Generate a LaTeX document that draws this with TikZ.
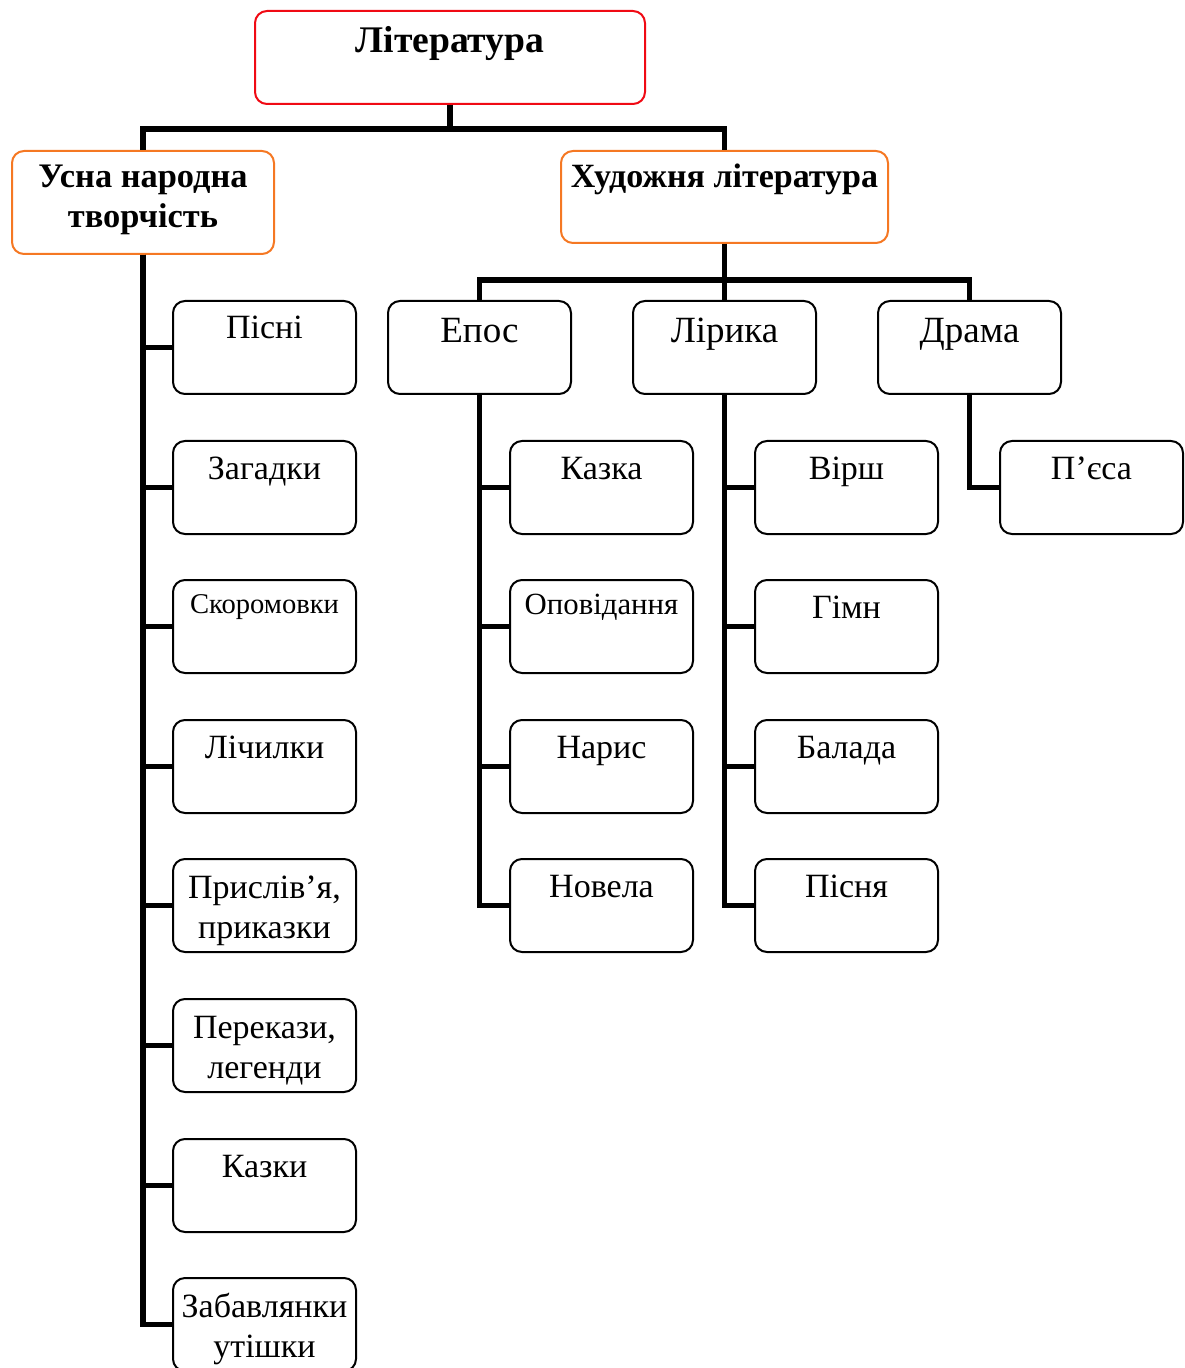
\documentclass[tikz,border=0pt]{standalone}
\usepackage{fontspec}
\setmainfont{Liberation Serif}
\newlength\pxu
\setlength\pxu{0.5pt}
\newcommand\cell[4]{\parbox[b][#2\pxu][t]{#1\pxu}{\centering\rule{0pt}{#3\pxu}#4}}
\definecolor{topred}{RGB}{240,10,20}
\definecolor{suborange}{RGB}{245,120,35}
\tikzset{
  bx/.style={draw, line width=1pt, rounded corners=6pt, inner sep=0pt, anchor=north west},
  conn/.style={line width=2.75pt},
  normal/.style={font=\fontsize{17}{20}\selectfont},
}
\newcommand\itm[1]{\cell{183}{93}{38}{#1}}
\newcommand\itmm[1]{\cell{183}{93}{39}{#1}}
\begin{document}
\begin{tikzpicture}[x=0.5pt,y=-0.5pt]
\useasboundingbox (0,0) rectangle (1184,1368);
% top
\node[bx, draw=topred, font=\bfseries\fontsize{18.8}{24}\selectfont] (lit) at (254,10) {\cell{390}{93}{42}{Література}};
\node[bx, draw=suborange, font=\bfseries\fontsize{17.2}{20}\selectfont] (usna) at (11,150) {\cell{262}{103}{37}{Усна народна\\ творчість}};
\node[bx, draw=suborange, font=\bfseries\fontsize{17}{20}\selectfont] (khud) at (560,150) {\cell{327}{92}{37}{Художня література}};
% genres
\node[bx, font=\fontsize{18.5}{22}\selectfont] (epos) at (387,300) {\cell{183}{93}{42}{Епос}};
\node[bx, font=\fontsize{18.5}{22}\selectfont] (lir) at (632,300) {\cell{183}{93}{42}{Лірика}};
\node[bx, font=\fontsize{18.5}{22}\selectfont] (dram) at (877,300) {\cell{183}{93}{42}{Драма}};
% folk column
\node[bx, normal] (f1) at (172,300) {\itm{Пісні}};
\node[bx, normal] (f2) at (172,440) {\itm{Загадки}};
\node[bx, font=\fontsize{14.3}{16}\selectfont] (f3) at (172,579) {\cell{183}{93}{33}{Скоромовки}};
\node[bx, normal] (f4) at (172,719) {\itm{Лічилки}};
\node[bx, normal] (f5) at (172,858) {\itmm{Прислів’я,\\ приказки}};
\node[bx, normal] (f6) at (172,998) {\itmm{Перекази,\\ легенди}};
\node[bx, normal] (f7) at (172,1138) {\itm{Казки}};
\node[bx, normal] (f8) at (172,1277) {\itmm{Забавлянки\\ утішки}};
% epos column
\node[bx, normal] (e1) at (509,440) {\itm{Казка}};
\node[bx, font=\fontsize{15.4}{17}\selectfont] (e2) at (509,579) {\cell{183}{93}{34}{Оповідання}};
\node[bx, normal] (e3) at (509,719) {\itm{Нарис}};
\node[bx, normal] (e4) at (509,858) {\itm{Новела}};
% lyric column
\node[bx, normal] (l1) at (754,440) {\itm{Вірш}};
\node[bx, normal] (l2) at (754,579) {\itm{Гімн}};
\node[bx, normal] (l3) at (754,719) {\itm{Балада}};
\node[bx, normal] (l4) at (754,858) {\itm{Пісня}};
% drama
\node[bx, normal] (d1) at (999,440) {\itm{П’єса}};
% connectors
\draw[conn] (lit.south) -- ++(0,24) -| (usna.north);
\draw[conn] (lit.south) -- ++(0,24) -| (khud.north);
\draw[conn] (khud.south) -- ++(0,36) -| (epos.north);
\draw[conn] (khud.south) -- ++(0,36) -| (lir.north);
\draw[conn] (khud.south) -- ++(0,36) -| (dram.north);
\foreach \n in {f1,f2,f3,f4,f5,f6,f7,f8} \draw[conn] (usna.south) |- (\n.west);
\foreach \n in {e1,e2,e3,e4} \draw[conn] (epos.south) |- (\n.west);
\foreach \n in {l1,l2,l3,l4} \draw[conn] (lir.south) |- (\n.west);
\draw[conn] (dram.south) |- (d1.west);
\end{tikzpicture}
\end{document}
